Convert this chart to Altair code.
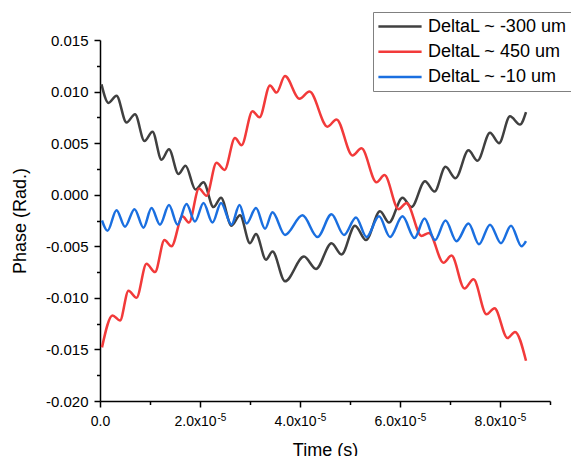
import altair as alt
import pandas as pd

# Time in microseconds (converted to seconds below), phase in radians.
gray_t = [0.3, 1.7, 3.3, 5.3, 7.0, 8.9, 10.5, 12.3, 13.8, 15.7, 17.1, 19.1, 20.7,
          22.7, 24.2, 26.3, 28.0, 30.0, 31.2, 33.2, 34.5, 37.0, 40.8, 43.2, 46.3,
          48.3, 51.0, 53.2, 56.0, 57.8, 60.5, 62.3, 65.0, 66.9, 69.1, 71.1, 73.7,
          75.5, 78.0, 79.8, 82.0, 84.0, 85.2]
gray_phase = [0.0107, 0.0089, 0.0096, 0.0070, 0.0078, 0.0052, 0.0061, 0.0034, 0.0044,
              0.0020, 0.0028, 0.0005, 0.0012, -0.0012, -0.0003, -0.0030, -0.0020,
              -0.0047, -0.0038, -0.0063, -0.0055, -0.0084, -0.0060, -0.0072, -0.0047,
              -0.0058, -0.0030, -0.0044, -0.0016, -0.0027, -0.0003, -0.0012, 0.0013,
              0.0003, 0.0027, 0.0016, 0.0043, 0.0033, 0.0060, 0.0050, 0.0076, 0.0068,
              0.0080]

red_t = [0.4, 2.5, 4.0, 5.7, 7.3, 9.3, 11.0, 12.9, 14.3, 16.5, 17.8, 19.8, 21.3,
         23.3, 24.9, 27.0, 28.3, 30.5, 31.9, 34.0, 35.3, 37.0, 39.9, 41.9, 45.5,
         47.3, 50.5, 52.3, 55.3, 56.9, 59.7, 61.3, 64.3, 65.8, 68.7, 70.3, 72.9,
         74.7, 77.3, 78.9, 81.5, 83.0, 85.2]
red_phase = [-0.0148, -0.0117, -0.0122, -0.0093, -0.0100, -0.0067, -0.0075, -0.0044,
             -0.0050, -0.0021, -0.0027, 0.0006, -0.0001, 0.0031, 0.0024, 0.0055,
             0.0048, 0.0081, 0.0075, 0.0106, 0.0099, 0.0115, 0.0093, 0.0100, 0.0066,
             0.0073, 0.0038, 0.0045, 0.0012, 0.0019, -0.0014, -0.0008, -0.0040,
             -0.0037, -0.0066, -0.0059, -0.0091, -0.0082, -0.0116, -0.0110, -0.0139,
             -0.0133, -0.0161]

blue_t = [0.4, 1.5, 3.3, 5.0, 6.9, 8.7, 10.3, 12.0, 13.8, 15.5, 17.3, 19.0, 20.7,
          22.5, 24.2, 26.3, 27.9, 29.3, 31.2, 33.0, 34.5, 37.0, 40.5, 43.5, 46.3,
          48.8, 51.2, 53.3, 55.8, 58.0, 60.5, 62.9, 64.9, 67.0, 69.1, 71.3, 73.7,
          75.8, 78.0, 80.2, 82.2, 84.3, 85.2]
blue_phase = [-0.0025, -0.0035, -0.0015, -0.0031, -0.0014, -0.0032, -0.0013, -0.0029,
              -0.0010, -0.0029, -0.0009, -0.0026, -0.0008, -0.0027, -0.0008, -0.0029,
              -0.0010, -0.0028, -0.0013, -0.0033, -0.0017, -0.0039, -0.0020, -0.0041,
              -0.0019, -0.0039, -0.0022, -0.0041, -0.0021, -0.0041, -0.0021, -0.0042,
              -0.0023, -0.0044, -0.0025, -0.0045, -0.0028, -0.0048, -0.0029, -0.0047,
              -0.0030, -0.0050, -0.0045]

series_labels = ["DeltaL ~ -300 um", "DeltaL ~ 450 um", "DeltaL ~ -10 um"]
series_colors = ["#404040", "#f23a3a", "#1a6fe0"]

rows = []
for label, ts, ps in zip(series_labels, [gray_t, red_t, blue_t],
                         [gray_phase, red_phase, blue_phase]):
    for t, p in zip(ts, ps):
        rows.append({"series": label, "time": t * 1e-6, "phase": p})
df = pd.DataFrame(rows)

x_ticks = [round(i * 1e-5, 10) for i in range(10)]
y_ticks = [round(-0.02 + i * 0.0025, 6) for i in range(15)]

FONT = "Liberation Sans"

x_major = "round(datum.value * 1e5) % 2 == 0"
y_major = "round(datum.value * 400) % 2 == 0"
x_tick_size = {"condition": {"test": x_major, "value": 6}, "value": 3.5}
y_tick_size = {"condition": {"test": y_major, "value": 6}, "value": 3.5}

x_scale = alt.Scale(domain=[0, 9e-5], nice=False, zero=False)
y_scale = alt.Scale(domain=[-0.02, 0.015], nice=False, zero=False)

# Mantissa part of the x labels ("2.0x10"), right-aligned so the exponent can follow.
x_axis_main = alt.Axis(
    title="Time (s)",
    orient="bottom",
    values=x_ticks,
    labelExpr=(f"{x_major} && datum.value > 0 ? "
               "format(datum.value * 1e5, '.1f') + 'x10' : ''"),
    labelFontSize=14,
    labelAlign="right",
    labelOffset=16,
    labelPadding=7,
    labelFlush=False,
    labelOverlap=False,
    labelBound=False,
    tickSize=x_tick_size,
    titlePadding=13,
)

# Raised exponent "-5" after each mantissa.
x_axis_exp = alt.Axis(
    title=None,
    orient="bottom",
    values=x_ticks,
    labelExpr=f"{x_major} && datum.value > 0 ? '-5' : ''",
    labelFontSize=10,
    labelAlign="left",
    labelOffset=17,
    labelPadding=5,
    labelFlush=False,
    labelOverlap=False,
    labelBound=False,
    domain=False,
    tickOpacity=0,
    tickSize=x_tick_size,
)

# The plain "0.0" label at the origin.
x_axis_zero = alt.Axis(
    title=None,
    orient="bottom",
    values=x_ticks,
    labelExpr="datum.value == 0 ? '0.0' : ''",
    labelFontSize=14,
    labelAlign="center",
    labelPadding=7,
    labelFlush=False,
    labelOverlap=False,
    labelBound=False,
    domain=False,
    tickOpacity=0,
    tickSize=x_tick_size,
)

y_axis = alt.Axis(
    title="Phase (Rad.)",
    values=y_ticks,
    labelExpr=f"{y_major} ? replace(format(datum.value, '.3f'), '−', '-') : ''",
    labelFontSize=15,
    labelPadding=6,
    labelOverlap=False,
    labelBound=False,
    labelFlush=False,
    tickSize=y_tick_size,
    titlePadding=16,
)

legend = alt.Legend(
    title=None,
    orient="none",
    legendX=273,
    legendY=-28,
    strokeColor="#808080",
    fillColor="white",
    padding=4,
    symbolType="M-2.4,0H2.4",
    symbolSize=324,
    symbolStrokeWidth=2.5,
    symbolOffset=12.5,
    labelOffset=17.5,
    labelFontSize=18,
    labelFont=FONT,
    labelColor="black",
    labelLimit=400,
    rowPadding=5.3,
)

y_enc = alt.Y("phase:Q", scale=y_scale, axis=y_axis)

lines = alt.Chart(df).mark_line(
    strokeWidth=2.5, interpolate="monotone"
).encode(
    x=alt.X("time:Q", scale=x_scale, axis=x_axis_main),
    y=y_enc,
    color=alt.Color("series:N",
                    scale=alt.Scale(domain=series_labels, range=series_colors),
                    sort=series_labels, legend=legend),
    detail="series:N",
)

exp_layer = alt.Chart(df).mark_line(opacity=0).encode(
    x=alt.X("time:Q", scale=x_scale, axis=x_axis_exp),
    y=y_enc,
    detail="series:N",
)

zero_layer = alt.Chart(df).mark_line(opacity=0).encode(
    x=alt.X("time:Q", scale=x_scale, axis=x_axis_zero),
    y=y_enc,
    detail="series:N",
)

chart = alt.layer(lines, exp_layer, zero_layer).resolve_axis(
    x="independent"
).properties(
    width=450,
    height=361,
    autosize=alt.AutoSizeParams(type="none"),
    padding={"left": 100, "top": 40, "right": 21, "bottom": 55},
    background="white",
).configure_view(
    stroke=None
).configure_axis(
    grid=False,
    domainColor="black",
    domainWidth=1.5,
    tickColor="black",
    tickWidth=1.5,
    labelColor="black",
    labelFont=FONT,
    titleFont=FONT,
    titleFontSize=18,
    titleFontWeight="normal",
    titleColor="black",
)

chart.save("out.html", embed_options={"renderer": "svg", "actions": False})
